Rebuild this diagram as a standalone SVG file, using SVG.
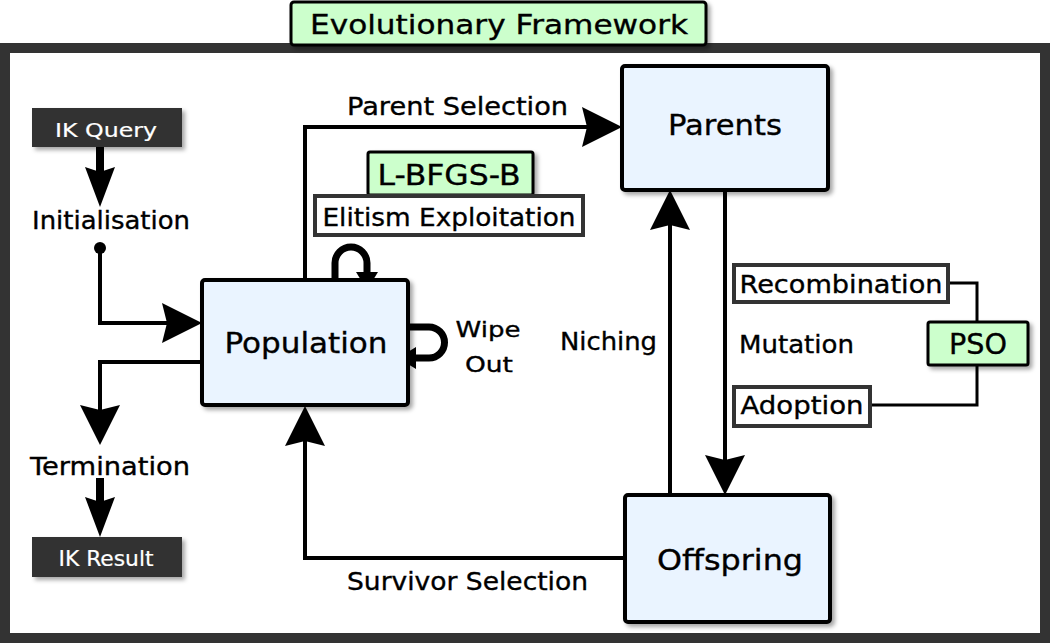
<svg xmlns="http://www.w3.org/2000/svg" width="1050" height="643" viewBox="0 0 1050 643">
<style>
text{font-family:"DejaVu Sans","Liberation Sans",sans-serif;fill:#000;stroke:#000;stroke-width:0.35}
.wt{fill:#fff;stroke:#fff;stroke-width:0.2}
.node{fill:#eaf4ff;stroke:#000;stroke-width:4}
.green{fill:#ccffcc;stroke:#000;stroke-width:3}
.lbl{fill:#fff;stroke:#333;stroke-width:4}
.dark{fill:#333}
.c{fill:none;stroke:#000;stroke-width:4}
.thick{fill:none;stroke:#000;stroke-width:8}
.loop{fill:none;stroke:#000;stroke-width:7}
.thin{fill:none;stroke:#000;stroke-width:3}
</style>
<defs>
<filter id="sh" x="-10%" y="-10%" width="130%" height="130%">
<feDropShadow dx="3" dy="3" stdDeviation="2" flood-color="#000" flood-opacity="0.35"/>
</filter>
<marker id="big" markerUnits="userSpaceOnUse" markerWidth="42" markerHeight="42" refX="15" refY="20" orient="auto" viewBox="0 0 42 40">
<path d="M0,0 L40,20 L0,40 L5,20 Z" fill="#000"/>
</marker>
<marker id="narrow" markerUnits="userSpaceOnUse" markerWidth="42" markerHeight="32" refX="15" refY="15" orient="auto" viewBox="0 0 42 30">
<path d="M0,0 L40,15 L0,30 L5,15 Z" fill="#000"/>
</marker>
<marker id="small" markerUnits="userSpaceOnUse" markerWidth="20" markerHeight="24" refX="8" refY="11" orient="auto" viewBox="0 0 20 22">
<path d="M0,0 L18,11 L0,22 Z" fill="#000"/>
</marker>
</defs>

<rect x="5" y="48" width="1040" height="590" fill="#fff" stroke="#333" stroke-width="10"/>

<g id="title">
<rect x="291" y="2" width="415" height="43" rx="3" class="green" filter="url(#sh)"/>
<text x="499" y="34" font-size="27" text-anchor="middle" textLength="378" lengthAdjust="spacingAndGlyphs">Evolutionary Framework</text>
</g>

<g id="connectors">
<path class="c" d="M305,280 V127 H597" marker-end="url(#big)"/>
<path class="thick" d="M100,147 V182" marker-end="url(#narrow)"/>
<circle cx="100" cy="248" r="6" fill="#000"/>
<path class="c" d="M100,248 V323 H177" marker-end="url(#big)"/>
<path class="c" d="M202,362 H100 V420" marker-end="url(#big)"/>
<path class="thick" d="M100,478 V512" marker-end="url(#narrow)"/>
<path class="loop" d="M335,280 V263 A16,16 0 0 1 367,263 V280" marker-end="url(#small)"/>
<path class="loop" d="M408,327 H429 A15.5,15.5 0 0 1 429,358 H408" marker-end="url(#small)"/>
<path class="c" d="M670,495 V215" marker-end="url(#big)"/>
<path class="c" d="M725,190 V470" marker-end="url(#big)"/>
<path class="c" d="M625,558 H305 V431" marker-end="url(#big)"/>
<path class="thin" d="M948,283 H977 V322"/>
<path class="thin" d="M977,365 V405 H870"/>
</g>

<g id="ik-query">
<rect x="32" y="108" width="150" height="39" class="dark" filter="url(#sh)"/>
<text x="106" y="137" font-size="20" text-anchor="middle" class="wt" textLength="102" lengthAdjust="spacingAndGlyphs">IK Query</text>
</g>
<g id="initialisation">
<text x="32" y="229" font-size="25" textLength="158" lengthAdjust="spacingAndGlyphs">Initialisation</text>
</g>
<g id="termination">
<text x="30" y="475" font-size="25" textLength="160" lengthAdjust="spacingAndGlyphs">Termination</text>
</g>
<g id="ik-result">
<rect x="32" y="537" width="150" height="40" class="dark" filter="url(#sh)"/>
<text x="106" y="566" font-size="21" text-anchor="middle" class="wt" textLength="95" lengthAdjust="spacingAndGlyphs">IK Result</text>
</g>

<g id="population">
<rect x="202" y="280" width="206" height="125" rx="3" class="node" filter="url(#sh)"/>
<text x="306" y="353" font-size="28" text-anchor="middle" textLength="163" lengthAdjust="spacingAndGlyphs">Population</text>
</g>
<g id="parents">
<rect x="622" y="66" width="206" height="124" rx="3" class="node" filter="url(#sh)"/>
<text x="725" y="135" font-size="29" text-anchor="middle" textLength="114" lengthAdjust="spacingAndGlyphs">Parents</text>
</g>
<g id="offspring">
<rect x="625" y="495" width="205" height="127" rx="3" class="node" filter="url(#sh)"/>
<text x="730" y="570" font-size="28" text-anchor="middle" textLength="146" lengthAdjust="spacingAndGlyphs">Offspring</text>
</g>

<g id="parent-selection">
<text x="347" y="115" font-size="24" textLength="221" lengthAdjust="spacingAndGlyphs">Parent Selection</text>
</g>
<g id="lbfgsb">
<rect x="368" y="152" width="165" height="43" rx="2" class="green" filter="url(#sh)"/>
<text x="449" y="185" font-size="29" text-anchor="middle" textLength="143" lengthAdjust="spacingAndGlyphs">L-BFGS-B</text>
</g>
<g id="elitism">
<rect x="315" y="196" width="268" height="39" class="lbl"/>
<text x="449" y="226" font-size="25" text-anchor="middle" textLength="253" lengthAdjust="spacingAndGlyphs">Elitism Exploitation</text>
</g>
<g id="wipe-out">
<text x="488" y="337" font-size="22" text-anchor="middle" textLength="65" lengthAdjust="spacingAndGlyphs">Wipe</text>
<text x="489" y="372" font-size="22" text-anchor="middle" textLength="48" lengthAdjust="spacingAndGlyphs">Out</text>
</g>
<g id="niching">
<text x="560" y="350" font-size="24" textLength="97" lengthAdjust="spacingAndGlyphs">Niching</text>
</g>
<g id="mutation">
<text x="739" y="353" font-size="24" textLength="115" lengthAdjust="spacingAndGlyphs">Mutation</text>
</g>
<g id="recombination">
<rect x="734" y="265" width="214" height="37" class="lbl"/>
<text x="841" y="293" font-size="24" text-anchor="middle" textLength="203" lengthAdjust="spacingAndGlyphs">Recombination</text>
</g>
<g id="adoption">
<rect x="734" y="387" width="136" height="39" class="lbl"/>
<text x="802" y="414" font-size="24" text-anchor="middle" textLength="123" lengthAdjust="spacingAndGlyphs">Adoption</text>
</g>
<g id="pso">
<rect x="928" y="322" width="100" height="43" rx="2" class="green" filter="url(#sh)"/>
<text x="978" y="354" font-size="28" text-anchor="middle" textLength="58" lengthAdjust="spacingAndGlyphs">PSO</text>
</g>
<g id="survivor-selection">
<text x="347" y="590" font-size="24" textLength="241" lengthAdjust="spacingAndGlyphs">Survivor Selection</text>
</g>
</svg>
